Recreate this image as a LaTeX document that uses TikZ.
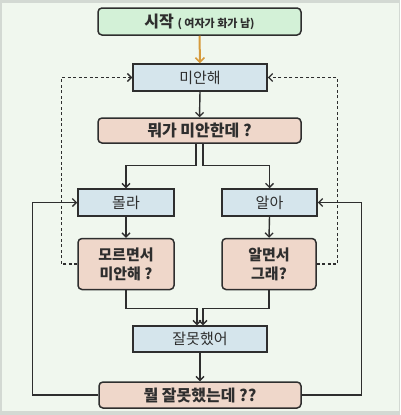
\documentclass[tikz,border=0pt]{standalone}
\usepackage{fontspec}
\setmainfont{Noto Sans CJK KR}
\usetikzlibrary{arrows.meta}
\definecolor{bgc}{HTML}{F0F7EE}
\definecolor{edgec}{HTML}{D3D9D3}
\definecolor{greenf}{HTML}{D3F1D7}
\definecolor{bluef}{HTML}{D5E5EC}
\definecolor{pinkf}{HTML}{EFD7CA}
\definecolor{linec}{HTML}{2E2E2E}
\definecolor{orangec}{HTML}{D69A3C}
\tikzset{
  box/.style={draw=linec, line width=1.5pt, inner sep=0pt, align=center, text=linec},
  bluebox/.style={box, fill=bluef, font=\fontsize{15}{17}\selectfont},
  pinkbox/.style={box, fill=pinkf, rounded corners=4pt, font=\bfseries\fontsize{16}{18}\selectfont},
  pinkbox2/.style={pinkbox, font=\bfseries\fontsize{15}{19}\selectfont},
  greenbox/.style={box, fill=greenf, rounded corners=4pt},
  arr/.style={draw=linec, line width=1.4pt, -{Straight Barb[length=4pt,width=8pt,line width=1.3pt]}},
  darr/.style={arr, dashed, dash pattern=on 3pt off 2.5pt},
  oarr/.style={draw=orangec, line width=2pt, -{Straight Barb[length=4.5pt,width=9pt,line width=1.6pt]}},
}
\begin{document}
\begin{tikzpicture}[x=1pt,y=-1pt]
\useasboundingbox (0,0) rectangle (400,415);
\fill[bgc] (0,0) rectangle (400,415);
\fill[edgec] (0,0) rectangle (400,2.5);
\fill[edgec] (0,410.5) rectangle (400,415);
\fill[edgec] (0,0) rectangle (1.5,415);
\fill[edgec] (398.5,0) rectangle (400,415);

\node[greenbox, minimum width=203pt, minimum height=27pt] (start) at (199.5,21.5)
  {\bfseries\fontsize{16}{18}\selectfont 시작 {\fontsize{11}{13}\selectfont ( 여자가 화가 남)}};
\node[bluebox, minimum width=134pt, minimum height=27pt] (sorry) at (200,77.5) {미안해};
\node[pinkbox, minimum width=203pt, minimum height=25pt] (what) at (199.5,130.5) {뭐가 미안한데 ?};
\node[bluebox, minimum width=96pt, minimum height=27pt] (dk) at (126,202.5) {몰라};
\node[bluebox, minimum width=95pt, minimum height=27pt] (k) at (269.5,202.5) {알아};
\node[pinkbox2, minimum width=96pt, minimum height=51pt] (dks) at (126,264) {모르면서\\미안해 ?};
\node[pinkbox2, minimum width=94pt, minimum height=51pt] (ks) at (269,264) {알면서\\그래?};
\node[bluebox, minimum width=134pt, minimum height=26pt] (wrong) at (200,339) {잘못했어};
\node[pinkbox, minimum width=202pt, minimum height=26pt] (ww) at (200,395) {뭘 잘못했는데 ??};

\draw[oarr] (start.south) -- (sorry.north);
\draw[arr] (sorry.south) -- (what.north);
\draw[arr] ([xshift=-3.5pt]what.south) -- ++(0,22) -| (dk.north);
\draw[arr] ([xshift=3.5pt]what.south) -- ++(0,22) -| (k.north);
\draw[arr] (dk.south) -- (dks.north);
\draw[arr] (k.south) -- (ks.north);
\draw[arr] (dks.south) -- ++(0,18) -| ([xshift=-3pt]wrong.north);
\draw[arr] (ks.south) -- ++(0,18) -| ([xshift=3pt]wrong.north);
\draw[arr] (wrong.south) -- (ww.north);
\draw[arr] (ww.west) -- ++(-66,0) |- (dk.west);
\draw[arr] (ww.east) -- ++(60,0) |- (k.east);
\draw[darr] (dks.west) -- ++(-16,0) |- (sorry.west);
\draw[darr] (ks.east) -- ++(21,0) |- (sorry.east);
\end{tikzpicture}
\end{document}
